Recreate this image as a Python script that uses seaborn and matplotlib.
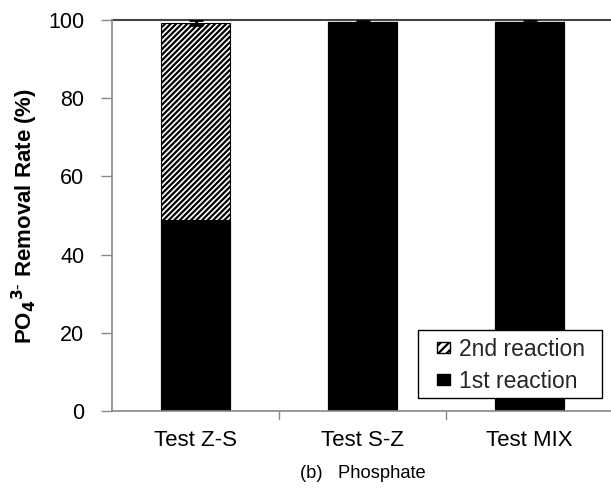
import matplotlib
matplotlib.use("Agg")
import matplotlib.pyplot as plt
import seaborn as sns
import pandas as pd
from matplotlib.patches import Patch, Rectangle

categories = ["Test Z-S", "Test S-Z", "Test MIX"]
first_reaction = [48.8, 99.5, 99.6]
second_reaction = [50.5, 0.0, 0.0]
errors = [0.6, 0.3, 0.3]
yticks = [0, 20, 40, 60, 80, 100]

sns.set_theme(style="white")
plt.rcParams['font.family'] = ['Liberation Sans', 'DejaVu Sans']
plt.rcParams['hatch.linewidth'] = 1.6

totals = [a + b for a, b in zip(first_reaction, second_reaction)]
df = pd.DataFrame({"cat": categories, "first": first_reaction, "total": totals})

W, H = 611, 488
fig = plt.figure(figsize=(W/100, H/100), dpi=100)
L, R, T, B = 112, 613, 20, 411
ax = fig.add_axes([L/W, 1 - B/H, (R-L)/W, (B-T)/H])

sns.barplot(data=df, x="cat", y="total", ax=ax, color="white", edgecolor="black",
            linewidth=0.8, hatch="//////", width=0.41, errorbar=None, saturation=1)
sns.barplot(data=df, x="cat", y="first", ax=ax, color="black", edgecolor="black",
            linewidth=0.8, width=0.41, errorbar=None, saturation=1)
ax.errorbar(range(len(categories)), totals, yerr=errors, fmt="none", ecolor="black",
            elinewidth=2, capsize=5, capthick=2)

ax.set_xlim(-0.5, 2.5)
ax.set_ylim(0, 100)
ax.set_yticks(yticks)
ax.tick_params(axis="y", labelsize=15.5, length=8, width=1, left=True, pad=12, labelcolor="black")
ax.tick_params(axis="y", color="#888888")
ax.set_xticks([0, 1, 2])
ax.set_xticklabels(categories, fontsize=16)
ax.tick_params(axis="x", bottom=False, pad=8, labelcolor="black")
for xb in [0.5, 1.5]:
    ax.plot([xb, xb], [0, -2.0], color="#888888", lw=1, clip_on=False)

for s in ["top", "right"]:
    ax.spines[s].set_visible(False)
for s in ["left", "bottom"]:
    ax.spines[s].set_color("#888888")
    ax.spines[s].set_linewidth(1.2)
ax.axhline(100, color="#444444", lw=1.5, clip_on=False, zorder=0.5)

ax.set_ylabel(r"PO$_\mathbf{4}$$^\mathbf{3\text{-}}$ Removal Rate (%)", fontsize=16,
              fontweight="bold", labelpad=6, color="black")
ax.set_xlabel("(b)   Phosphate", fontsize=13.2, labelpad=10, color="black")

# legend frame box
ax.add_patch(Rectangle((418/W, 1 - 398/H), 184/W, 68/H, transform=fig.transFigure,
                       facecolor="white", edgecolor="black", lw=1, clip_on=False, zorder=4))
handles = [Patch(facecolor="white", edgecolor="black", hatch="////", label="2nd reaction"),
           Patch(facecolor="black", edgecolor="black", label="1st reaction")]
leg = ax.legend(handles=handles, loc="upper left",
                bbox_to_anchor=(437/W, 1 - 338/H), bbox_transform=fig.transFigure,
                borderaxespad=0, borderpad=0,
                fontsize=16.5, frameon=False,
                handlelength=0.55, handleheight=0.35, handletextpad=0.4,
                labelspacing=0.38)
leg.set_zorder(5)

fig.savefig("out.png", dpi=100)
